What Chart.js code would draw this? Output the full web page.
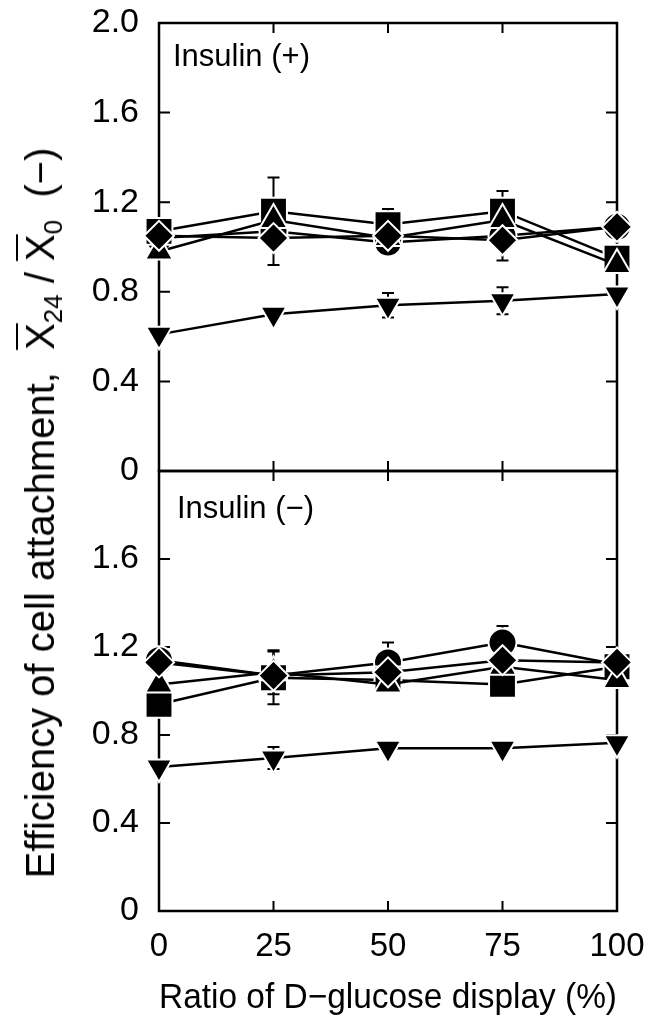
<!DOCTYPE html>
<html>
<head>
<meta charset="utf-8">
<script src="https://cdn.jsdelivr.net/npm/chart.js@4"></script>
<style>
  html, body { margin: 0; padding: 0; background: #fff; }
  #wrap { position: relative; width: 655px; height: 1030px; overflow: hidden; font-family: "Liberation Sans", Arial, sans-serif; }
  canvas { position: absolute; left: 0; }
  .panel-label { position: absolute; font-size: 31px; line-height: 1; color: #000; white-space: nowrap; }
  #ytitle { position: absolute; left: 43px; top: 513px; transform: translate(-50%, -50%) rotate(-90deg); font-size: 40px; line-height: 1; white-space: nowrap; color: #000; }
  #ytitle .ov { text-decoration: overline; text-decoration-thickness: 2px; }
  #ytitle sub { font-size: 26px; vertical-align: -8px; }
</style>
</head>
<body>
<div id="wrap">
  <canvas id="top" width="655" height="510" style="top:0"></canvas>
  <canvas id="bottom" width="655" height="590" style="top:440px"></canvas>
  <div class="panel-label" style="left:173px; top:40px">Insulin (+)</div>
  <div class="panel-label" style="left:177px; top:492px">Insulin (−)</div>
  <div id="ytitle">Efficiency of cell attachment,&nbsp; <span class="ov">X</span><sub>24</sub> / <span class="ov">X</span><sub>0</sub>&nbsp; (−)</div>
</div>
<script>
// D-glucose display ratio (%)
const ratios = [0, 25, 50, 75, 100];
const yTicks = [0, 0.4, 0.8, 1.2, 1.6, 2.0];

// Insulin (+)
const diaPlus = [1.05, 1.04, 1.05, 1.03, 1.09];
const triPlus = [0.98, 1.12, 1.04, 1.12, 0.92];
const sqPlus = [1.07, 1.16, 1.10, 1.16, 0.95];
const circPlus = [1.04, 1.07, 1.02, 1.05, 1.09];
const invPlus = [0.61, 0.70, 0.74, 0.76, 0.79];
const diaPlusErr = [null, 0.12, null, 0.09, null];
const sqPlusErr = [null, 0.15, 0.07, 0.09, null];
const invPlusErr = [null, null, 0.055, 0.06, null];

// Insulin (-)
const diaMinus = [1.13, 1.07, 1.085, 1.14, 1.13];
const triMinus = [1.03, 1.085, 1.03, 1.11, 1.05];
const sqMinus = [0.94, 1.06, 1.05, 1.03, 1.11];
const circMinus = [1.14, 1.07, 1.13, 1.22, 1.12];
const invMinus = [0.655, 0.695, 0.74, 0.74, 0.765];
const triMinusErr = [null, 0.10, null, null, null];
const sqMinusErr = [null, 0.12, null, null, null];
const circMinusErr = [null, null, 0.09, 0.075, null];
const invMinusErr = [null, 0.05, null, null, null];

const FONT = "'Liberation Sans', Arial, sans-serif";

const series = (vals, style, radius, rotation, err) => ({
  data: ratios.map((r, i) => ({ x: r, y: vals[i] })),
  err: err,
  clip: false,
  borderColor: '#000',
  borderWidth: 2.5,
  tension: 0,
  pointStyle: style,
  pointRadius: radius,
  pointRotation: rotation || 0,
  pointBackgroundColor: '#000',
  pointBorderColor: '#fff',
  pointBorderWidth: 2
});

// error bars drawn under the markers
const errorBars = {
  id: 'errorBars',
  beforeDatasetsDraw(chart) {
    const { ctx, scales: { x, y } } = chart;
    ctx.save();
    ctx.strokeStyle = '#000';
    ctx.lineWidth = 2;
    chart.data.datasets.forEach(ds => {
      if (!ds.err) return;
      ds.err.forEach((e, i) => {
        if (e == null) return;
        const px = x.getPixelForValue(ds.data[i].x);
        const v = ds.data[i].y;
        const t = y.getPixelForValue(v + e), b = y.getPixelForValue(v - e);
        ctx.beginPath();
        ctx.moveTo(px, t); ctx.lineTo(px, b);
        ctx.moveTo(px - 6, t); ctx.lineTo(px + 6, t);
        ctx.moveTo(px - 6, b); ctx.lineTo(px + 6, b);
        ctx.stroke();
      });
    });
    ctx.restore();
  }
};

// box frame with inward ticks
const frame = {
  id: 'frame',
  beforeDatasetsDraw(chart) {
    const { ctx, chartArea: a, scales: { x, y } } = chart;
    ctx.save();
    ctx.strokeStyle = '#000';
    ctx.lineWidth = 2.5;
    ctx.strokeRect(a.left, a.top, a.right - a.left, a.bottom - a.top);
    ctx.lineWidth = 2;
    ctx.beginPath();
    yTicks.slice(1, -1).forEach(v => {
      const py = y.getPixelForValue(v);
      ctx.moveTo(a.left, py); ctx.lineTo(a.left + 11, py);
      ctx.moveTo(a.right, py); ctx.lineTo(a.right - 11, py);
    });
    ratios.slice(1, -1).forEach(r => {
      const px = x.getPixelForValue(r);
      ctx.moveTo(px, a.top); ctx.lineTo(px, a.top + 10);
      ctx.moveTo(px, a.bottom); ctx.lineTo(px, a.bottom - 10);
    });
    ctx.stroke();
    ctx.restore();
  }
};

function makeChart(id, sets, isBottom) {
  return new Chart(document.getElementById(id), {
    type: 'line',
    data: { datasets: sets },
    options: {
      responsive: false,
      animation: false,
      devicePixelRatio: 1,
      layout: { padding: isBottom ? { top: 31, right: 38, bottom: 0, left: 0 } : { top: 23, right: 38, bottom: 39, left: 0 } },
      plugins: { legend: { display: false }, tooltip: { enabled: false } },
      scales: {
        x: {
          type: 'linear', min: 0, max: 100,
          display: isBottom,
          afterFit: s => {
            s.paddingLeft = 0; s.paddingRight = 0;
            if (isBottom) s.height = 119;
          },
          grid: { display: false, drawTicks: false },
          border: { display: false },
          ticks: { stepSize: 25, padding: 16, color: '#000', font: { family: FONT, size: 33 } },
          title: { display: true, text: 'Ratio of D−glucose display (%)', color: '#000', padding: { top: 0, bottom: 11 }, font: { family: FONT, size: 35 } }
        },
        y: {
          type: 'linear', min: 0, max: 2,
          afterFit: s => { s.width = 159; s.paddingTop = 0; s.paddingBottom = 0; },
          grid: { display: false, drawTicks: false },
          border: { display: false },
          ticks: {
            stepSize: 0.4, padding: 20, color: '#000',
            font: { family: FONT, size: 34 },
            callback: v => (isBottom && v > 1.9) ? '' : (v === 0 ? '0' : v.toFixed(1))
          }
        }
      }
    },
    plugins: [frame, errorBars]
  });
}

makeChart('top', [
  series(diaPlus, 'rectRot', 15, 0, diaPlusErr),
  series(triPlus, 'triangle', 16, 0, null),
  series(sqPlus, 'rect', 19, 0, sqPlusErr),
  series(circPlus, 'circle', 14, 0, null),
  series(invPlus, 'triangle', 15, 180, invPlusErr)
], false);

makeChart('bottom', [
  series(diaMinus, 'rectRot', 15, 0, null),
  series(triMinus, 'triangle', 16, 0, triMinusErr),
  series(sqMinus, 'rect', 19, 0, sqMinusErr),
  series(circMinus, 'circle', 14, 0, circMinusErr),
  series(invMinus, 'triangle', 15, 180, invMinusErr)
], true);
</script>
</body>
</html>
